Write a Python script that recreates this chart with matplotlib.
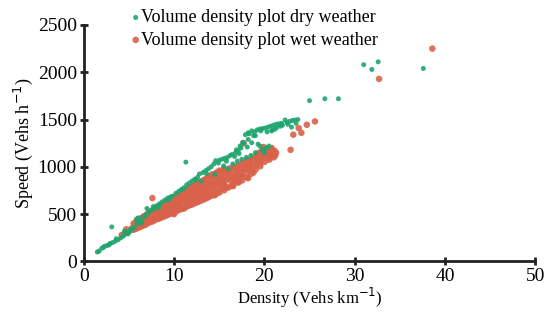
import matplotlib.pyplot as plt

# dry weather points (density, speed)
dry_x = [1.5, 1.7, 2.0, 2.2, 2.3, 2.6, 2.8, 2.9, 3.2, 3.5, 3.6, 3.8, 4.1, 4.4, 4.7,
         5.0, 4.5, 5.3, 3.1, 5.6, 5.8, 5.9, 6.0, 6.3, 6.6, 6.9, 7.2, 7.0, 7.5, 7.7,
         7.8, 8.1, 8.4, 8.7, 9.0, 9.3, 9.6, 9.8, 10.2, 10.5, 10.8, 11.1, 11.4,
         11.7, 12.0, 12.3, 12.6, 12.8, 13.2, 13.5, 13.8, 14.1, 14.4, 14.6, 15.0,
         15.3, 15.6, 15.9, 16.2, 16.4, 16.8, 17.1, 17.4, 17.6, 17.9, 18.3, 18.6,
         18.9, 19.2, 19.5, 19.8, 20.1, 20.4, 20.7, 21.0, 21.3, 21.6, 21.9, 22.3,
         22.5, 22.8, 23.1, 23.4, 23.7, 11.3, 16.5, 17.0, 18.0, 18.6, 19.0, 19.8,
         20.2, 20.5, 19.5, 18.5, 14.5, 13.0, 16.0, 17.5, 20.0, 15.5, 18.2, 18.8,
         19.3, 20.8, 21.4, 22.0, 12.4, 13.6, 14.9, 15.8, 16.7, 17.2, 10.9, 9.4,
         8.3, 6.4, 5.2, 4.9, 18.2, 19.0, 19.6, 20.3, 21.2, 21.8, 22.6, 23.0, 23.5,
         20.9, 16.9, 17.3, 17.7, 18.1, 25.0, 26.7, 28.2, 31.0, 31.9, 32.6, 37.6]
dry_y = [100, 110, 140, 150, 160, 170, 175, 190, 200, 215, 240, 230, 250, 270, 300,
         310, 320, 330, 365, 360, 445, 400, 460, 430, 470, 490, 520, 560, 540, 580,
         560, 590, 610, 630, 650, 670, 680, 690, 720, 740, 760, 780, 810,
         830, 850, 870, 890, 925, 940, 960, 980, 1000, 1030, 1065, 1070,
         1080, 1090, 1100, 1120, 1130, 1150, 1170, 1200, 1260, 1340, 1350, 1380,
         1370, 1390, 1400, 1405, 1410, 1420, 1430, 1440, 1450, 1455, 1460, 1495,
         1470, 1480, 1490, 1495, 1500, 1050, 1030, 1060, 1100, 1255, 1150, 1180,
         1200, 1220, 1220, 1120, 920, 850, 980, 1080, 1150, 1010, 1290, 1330,
         1240, 1380, 1420, 1440, 860, 930, 1040, 1060, 1110, 1140, 760, 650,
         570, 410, 340, 290, 1360, 1330, 1380, 1370, 1400, 1430, 1450, 1420, 1460,
         1390, 1180, 1220, 1250, 1210, 1700, 1720, 1720, 2080, 2030, 2110, 2040]

# wet weather points (density, speed)
wet_x = [4.2, 4.6, 4.7, 5.0, 5.3, 5.6, 5.8, 6.0, 6.2, 6.4, 6.5, 6.7, 6.9, 7.0, 7.2,
         7.3, 7.5, 7.6, 7.6, 7.8, 7.9, 8.0, 8.1, 8.2, 8.3, 8.4, 8.5, 8.6, 8.7, 8.8,
         8.9, 9.0, 9.1, 9.2, 9.3, 9.4, 9.5, 9.6, 9.7, 9.8, 9.9, 10.0, 10.0, 10.1,
         10.2, 10.3, 10.4, 10.5, 10.6, 10.7, 10.8, 10.9, 11.0, 11.1, 11.2, 11.3,
         11.4, 11.5, 11.6, 11.7, 11.8, 11.9, 12.0, 12.1, 12.2, 12.3, 12.4, 12.5,
         12.6, 12.7, 12.8, 12.9, 13.0, 13.1, 13.2, 13.3, 13.4, 13.5, 13.6, 13.7,
         13.8, 13.9, 14.0, 14.1, 14.2, 14.3, 14.4, 14.5, 14.6, 14.7, 14.8, 14.9,
         15.0, 15.1, 15.2, 15.3, 15.4, 15.5, 15.6, 15.7, 15.8, 16.0, 16.2, 16.4,
         16.5, 16.7, 16.8, 17.0, 17.2, 17.4, 17.5, 17.7, 17.8, 18.0, 18.2, 18.4,
         18.6, 18.8, 19.0, 19.2, 19.4, 19.6, 19.8, 20.0, 20.2, 20.4, 20.6, 20.8,
         21.0, 21.2, 22.9, 23.2, 23.8, 24.1, 24.7, 25.6, 32.7, 38.6,
         5.45, 5.6, 5.52, 5.8, 5.7, 5.88, 6.05, 5.96, 6.12, 6.3, 6.2, 6.38,
         6.55, 6.45, 6.62, 6.8, 6.7, 6.9, 7.05, 6.95, 7.12, 7.3, 7.18, 7.35,
         7.55, 7.42, 7.6, 7.8, 7.7, 7.85, 8.05, 7.95, 8.12, 8.3, 8.2, 8.36,
         8.55, 8.45, 8.6, 8.8, 8.7, 8.88, 9.05, 8.96, 9.12, 9.3, 9.2, 9.38,
         9.55, 9.45, 9.6, 9.8, 9.7, 9.85, 10.05, 9.96, 10.12, 10.3, 10.2, 10.38,
         10.55, 10.45, 10.6, 10.8, 10.7, 10.86, 11.05, 10.95, 11.12, 11.3, 11.2, 11.38,
         11.55, 11.45, 11.62, 11.8, 11.7, 11.86, 12.05, 11.95, 12.1, 12.3, 12.2, 12.36,
         12.55, 12.45, 12.62, 12.8, 12.7, 12.86, 13.05, 12.95, 13.12, 13.3, 13.2, 13.38,
         13.55, 13.45, 13.62, 13.8, 13.7, 13.86, 14.05, 13.95, 14.1, 14.3, 14.2, 14.36,
         14.55, 14.45, 14.6, 14.8, 14.7, 14.86, 15.05, 14.95, 15.12, 15.55, 15.45, 15.6,
         16.05, 15.95, 16.1, 16.55, 16.45, 16.6, 17.05, 16.95, 17.1, 17.55, 17.45, 17.6,
         18.05, 17.95, 18.1, 18.55, 18.45, 18.6, 19.05, 18.95, 19.1, 19.55, 19.45, 19.6,
         20.05, 19.95, 20.1, 20.55, 20.45, 20.6, 21.05, 20.95, 21.1,
         6.1, 6.9, 7.4, 8.1, 8.6, 9.1, 9.6, 10.1, 10.6, 11.1, 11.6, 12.1, 12.6, 13.1,
         13.6, 14.1, 14.6, 15.1, 15.6, 16.1, 16.6, 17.1, 17.6, 18.1, 18.6, 19.1,
         19.6, 20.1, 20.6, 12.2, 13.7, 11.4, 10.3, 9.3, 8.4, 7.7, 6.6, 14.8, 16.9,
         18.3, 15.3, 15.8, 16.3, 16.8, 17.3, 17.8, 18.3, 18.8, 19.3, 19.8, 20.3,
         20.8, 21.3, 19.9]
wet_y = [280, 300, 340, 320, 350, 340, 380, 360, 400, 380, 420, 400, 440, 410, 460,
         430, 480, 450, 670, 500, 460, 520, 480, 540, 500, 560, 470, 530, 580, 510,
         560, 600, 520, 580, 620, 540, 600, 640, 560, 610, 660, 500, 580, 630,
         680, 550, 610, 700, 650, 580, 720, 620, 680, 560, 740, 650,
         600, 700, 760, 630, 680, 780, 720, 620, 800, 690, 750, 660,
         810, 720, 770, 680, 830, 740, 700, 860, 780, 720, 880, 800,
         740, 900, 820, 760, 920, 840, 780, 700, 860, 940, 800, 880,
         960, 820, 900, 760, 860, 980, 840, 920, 780, 880, 960, 800,
         900, 1000, 860, 940, 840, 1020, 900, 1250, 960, 1060, 880, 1000,
         1080, 940, 1100, 1030, 1150, 1060, 1180, 1120, 1190, 1140, 1100, 1180,
         1150, 1120, 1180, 1340, 1410, 1360, 1445, 1480, 1930, 2250,
         335, 378, 402, 346, 392, 425, 356, 401, 448, 366, 417, 459,
         378, 430, 476, 386, 441, 492, 402, 455, 508, 413, 472, 523,
         421, 486, 541, 433, 497, 556, 446, 507, 573, 451, 524, 586,
         463, 530, 603, 472, 549, 615, 481, 561, 628, 492, 569, 641,
         503, 586, 656, 514, 597, 672, 521, 612, 686, 533, 619, 701,
         546, 636, 713, 553, 644, 728, 566, 657, 744, 577, 668, 757,
         586, 683, 770, 597, 694, 783, 604, 706, 798, 617, 713, 812,
         624, 731, 822, 637, 738, 841, 646, 752, 848, 657, 761, 862,
         668, 777, 873, 679, 783, 892, 693, 801, 903, 702, 808, 917,
         709, 823, 922, 722, 827, 938, 731, 846, 948, 752, 862, 967,
         783, 892, 983, 797, 906, 1003, 833, 927, 1018, 857, 963, 1042,
         893, 986, 1073, 927, 1024, 1086, 974, 1055, 1114, 1006, 1104, 1146,
         1054, 1126, 1185, 1076, 1155, 1186, 1101, 1138, 1172,
         430, 470, 445, 555, 500, 590, 530, 650, 590, 700, 640, 760, 690, 800,
         720, 860, 760, 900, 800, 940, 850, 980, 910, 1030, 960, 1080,
         1040, 1150, 1120, 660, 830, 720, 590, 545, 515, 470, 405, 870, 880,
         1050, 800, 930, 850, 960, 900, 1010, 950, 1000, 1040, 1080, 1110,
         1200, 1150, 1210]

plt.rcParams['font.family'] = ['Liberation Serif', 'DejaVu Serif']

fig = plt.figure(figsize=(5.44, 3.12), dpi=100)
ax = fig.add_axes([0.154, 0.162, 0.83, 0.758])

dry = ax.scatter(dry_x, dry_y, s=13, color='#1fa56f', edgecolors='none', alpha=0.9,
                 zorder=3, label='Volume density plot dry weather')
wet = ax.scatter(wet_x, wet_y, s=22, color='#d9634a', edgecolors='none', alpha=0.9,
                 zorder=2, label='Volume density plot wet weather')

ax.set_xlim(0, 50)
ax.set_ylim(0, 2500)
ax.set_xticks([0, 10, 20, 30, 40, 50])
ax.set_yticks([0, 500, 1000, 1500, 2000, 2500])

for side in ['top', 'right']:
    ax.spines[side].set_visible(False)
for side in ['left', 'bottom']:
    ax.spines[side].set_linewidth(2)
    ax.spines[side].set_color('#222222')
ax.tick_params(direction='inout', length=6, width=2, color='#222222',
               labelsize=14, pad=2)

ax.set_xlabel('Density (Vehs km$^{-1}$)', fontsize=12, labelpad=0)
ax.set_ylabel('Speed (Vehs h$^{-1}$)', fontsize=13, labelpad=2)

ax.legend(handles=[dry, wet], loc='upper left', bbox_to_anchor=(0.067, 1.12),
          frameon=False, fontsize=13, handletextpad=-0.2, handlelength=1.0,
          labelspacing=0.3, borderpad=0.2, markerscale=1.0)

fig.savefig('out.png', dpi=100)
